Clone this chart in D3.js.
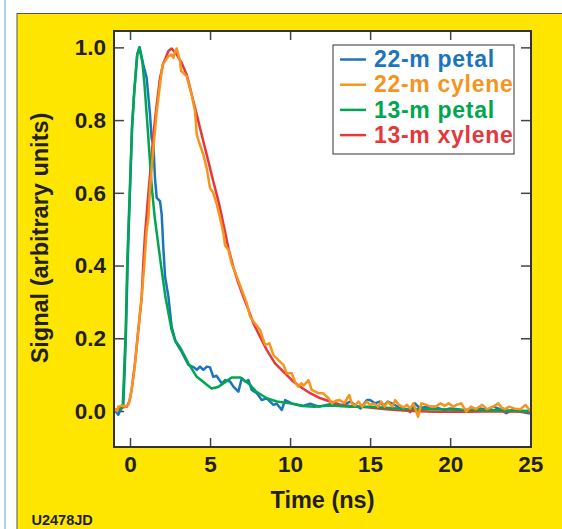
<!DOCTYPE html>
<html>
<head>
<meta charset="utf-8">
<script src="https://cdn.jsdelivr.net/npm/d3@7"></script>
<style>
	body { margin: 0; background: white; }
	text { font-family: "Liberation Sans", Arial, Helvetica, sans-serif; font-weight: bold; fill: #231f20; }
</style>
</head>
<body>
<svg id="chart"></svg>
<script>

//series, as [time (ns), signal]
var petal22 = [
	[-1, 0.0], [-0.83, -0.004], [-0.73, -0.01], [-0.625, 0.0], [-0.42, 0.015], [-0.35, 0.09], [-0.25, 0.22],
	[-0.15, 0.4], [-0.08, 0.5], [0.13, 0.78], [0.27, 0.88], [0.45, 0.98], [0.6, 1.0], [0.83, 0.953],
	[1.04, 0.916], [1.25, 0.815], [1.35, 0.75], [1.46, 0.733], [1.56, 0.64], [1.67, 0.586], [1.875, 0.577],
	[1.98, 0.54], [2.08, 0.45], [2.19, 0.37], [2.4, 0.314], [2.6, 0.232], [2.85, 0.19], [3.2, 0.165],
	[3.65, 0.127], [4.0, 0.12], [4.17, 0.113], [4.375, 0.122], [4.58, 0.113], [4.8, 0.122], [5.0, 0.12],
	[5.2, 0.094], [5.4, 0.097], [5.73, 0.076], [5.94, 0.085], [6.25, 0.081], [6.46, 0.067], [6.77, 0.053],
	[6.98, 0.09], [7.2, 0.081], [7.4, 0.085], [7.6, 0.058], [7.9, 0.05], [8.23, 0.03], [8.54, 0.035],
	[8.96, 0.017], [9.17, 0.02], [9.48, 0.003], [9.69, 0.03], [10.1, 0.021], [10.4, 0.018], [10.8, 0.014],
	[11.25, 0.02], [11.8, 0.012], [12.7, 0.021], [13.2, 0.014], [13.75, 0.026], [14.4, 0.007], [14.8, 0.03],
	[15.0, 0.03], [15.3, 0.021], [15.6, 0.026], [15.85, 0.014], [16.1, 0.026], [16.5, 0.018], [16.9, 0.007],
	[17.3, 0.003], [17.5, -0.003], [17.8, 0.021], [18.1, 0.008], [18.6, 0.012], [19.0, 0.012], [19.6, 0.003],
	[20.0, 0.007], [20.5, 0.005], [21.0, -0.002], [21.5, 0.005], [21.9, 0.007], [22.3, 0.003], [22.7, 0.012],
	[23.1, 0.005], [23.5, -0.006], [23.9, 0.003], [24.4, -0.002], [24.9, -0.006], [25.05, -0.004]
];

var cylene22 = [
	[-1, 0.0], [-0.9, 0.005], [-0.8, 0.0], [-0.73, 0.012], [-0.5, 0.015], [-0.31, 0.012], [-0.1, 0.017],
	[0.0, 0.035], [0.1, 0.058], [0.21, 0.094], [0.31, 0.131], [0.52, 0.223], [0.73, 0.314], [0.9, 0.406],
	[1.04, 0.498], [1.15, 0.53], [1.25, 0.613], [1.46, 0.723], [1.67, 0.824], [1.875, 0.898], [2.04, 0.953],
	[2.19, 0.962], [2.4, 0.976], [2.6, 0.98], [2.71, 0.971], [2.81, 0.988], [2.92, 0.997], [3.02, 0.98],
	[3.125, 0.962], [3.19, 0.935], [3.33, 0.93], [3.54, 0.92], [3.85, 0.87], [4.06, 0.824], [4.17, 0.76],
	[4.33, 0.737], [4.58, 0.705], [4.79, 0.668], [5.0, 0.613], [5.2, 0.6], [5.42, 0.568], [5.625, 0.531],
	[5.83, 0.49], [5.94, 0.455], [6.15, 0.443], [6.35, 0.406], [6.67, 0.37], [6.98, 0.333], [7.3, 0.296],
	[7.5, 0.26], [7.8, 0.241], [8.125, 0.223], [8.44, 0.182], [8.71, 0.186], [8.96, 0.154], [9.27, 0.14],
	[9.58, 0.127], [9.79, 0.104], [10.1, 0.104], [10.3, 0.081], [10.5, 0.067], [10.7, 0.076], [10.85, 0.07],
	[11.15, 0.085], [11.35, 0.058], [11.77, 0.049], [12.06, 0.049], [12.4, 0.035], [12.6, 0.021], [12.85, 0.028],
	[13.1, 0.03], [13.4, 0.022], [13.7, 0.044], [13.85, 0.021], [14.05, 0.015], [14.27, 0.026], [14.5, 0.012],
	[14.8, 0.026], [15.0, 0.017], [15.25, 0.02], [15.5, 0.012], [15.7, 0.026], [15.9, 0.012], [16.1, 0.026],
	[16.4, 0.012], [16.56, 0.03], [16.8, 0.017], [17.1, 0.01], [17.3, 0.017], [17.5, 0.007], [17.7, 0.021],
	[18.0, -0.016], [18.2, 0.021], [18.5, 0.017], [18.8, 0.012], [19.1, 0.012], [19.4, 0.021], [19.65, 0.014],
	[19.9, 0.021], [20.2, 0.012], [20.4, 0.017], [20.7, 0.021], [21.0, -0.002], [21.3, 0.012], [21.6, 0.005],
	[22.0, 0.017], [22.3, 0.005], [22.7, 0.012], [23.0, 0.021], [23.2, 0.01], [23.4, 0.005], [23.7, 0.012],
	[24.05, 0.006], [24.4, 0.005], [24.7, 0.017], [25.05, -0.002]
];

var petal13 = [
	[-1, 0.0], [-0.8, 0.0], [-0.6, 0.005], [-0.45, 0.02], [-0.375, 0.1], [-0.27, 0.22], [-0.17, 0.41],
	[-0.1, 0.5], [0.125, 0.78], [0.25, 0.87], [0.45, 0.98], [0.58, 1.0], [0.77, 0.96], [0.9, 0.9],
	[1.1, 0.78], [1.35, 0.62], [1.55, 0.53], [1.73, 0.47], [1.92, 0.406], [2.21, 0.314], [2.6, 0.223],
	[2.81, 0.195], [3.17, 0.172], [3.65, 0.131], [4.17, 0.094], [4.8, 0.072], [5.1, 0.062], [5.5, 0.066],
	[5.83, 0.076], [6.35, 0.092], [6.9, 0.092], [7.5, 0.072], [7.9, 0.053], [8.54, 0.035], [9.17, 0.026],
	[10.0, 0.021], [10.8, 0.014], [11.5, 0.012], [12.5, 0.015], [13.75, 0.012], [15.0, 0.012], [17.0, 0.006],
	[20.0, 0.004], [25.05, 0.0]
];

var xylene13 = [
	[-1, 0.005], [-0.8, 0.005], [-0.42, 0.01], [-0.2, 0.012], [-0.04, 0.026], [0.1, 0.058], [0.31, 0.131],
	[0.52, 0.223], [0.73, 0.314], [0.83, 0.406], [0.94, 0.487], [1.04, 0.54], [1.15, 0.6], [1.25, 0.65],
	[1.46, 0.76], [1.67, 0.843], [1.875, 0.916], [2.08, 0.957], [2.19, 0.967], [2.4, 0.99], [2.6, 0.997],
	[2.92, 0.98], [3.23, 0.957], [3.54, 0.925], [3.75, 0.889], [3.96, 0.852], [4.17, 0.815], [4.375, 0.778],
	[4.58, 0.742], [4.79, 0.705], [5.0, 0.668], [5.2, 0.632], [5.42, 0.595], [5.625, 0.558], [5.83, 0.515],
	[6.0, 0.48], [6.15, 0.447], [6.46, 0.395], [6.77, 0.352], [7.08, 0.314], [7.4, 0.278], [7.71, 0.241],
	[8.125, 0.204], [8.54, 0.168], [9.06, 0.131], [9.58, 0.108], [10.2, 0.081], [10.8, 0.062], [11.25, 0.049],
	[11.9, 0.035], [12.5, 0.026], [13.1, 0.018], [13.75, 0.014], [14.8, 0.01], [16.0, 0.005], [17.3, 0.001],
	[19.0, -0.002], [21.0, -0.002], [23.0, -0.001], [25.05, -0.002]
];

var seriesNames = ["22-m petal", "22-m cylene", "13-m petal", "13-m xylene"];
var seriesColors = ["#1c75bc", "#f7941e", "#00a651", "#e5383b"];
var xTicks = [0, 5, 10, 15, 20, 25];
var yTicks = [0, 0.2, 0.4, 0.6, 0.8, 1.0];

var width = 562, height = 529;
var svg = d3.select("#chart").attr("width", width).attr("height", height);

//thin blue margin line
svg.append("line").attr("x1", 5).attr("x2", 5).attr("y1", 0).attr("y2", height)
	.style("stroke", "#5aa5dc").style("stroke-width", 1);

//yellow panel
svg.append("rect").attr("x", 17).attr("y", 13.5).attr("width", 560).attr("height", 530)
	.style("fill", "#ffe600").style("stroke", "#555").style("stroke-width", 1);

//plot area
var x = d3.scaleLinear().domain([-1, 25.05]).range([114, 531]);
var y = d3.scaleLinear().domain([-0.099, 1.045]).range([447, 31]);

svg.append("rect").attr("x", x.range()[0]).attr("y", y.range()[1])
	.attr("width", x.range()[1] - x.range()[0]).attr("height", y.range()[0] - y.range()[1])
	.style("fill", "white");

//axes, ticks pointing inside
function styleAxis(g) {
	g.select(".domain").remove();
	g.selectAll(".tick line").style("stroke", "#444").style("stroke-width", 1.5);
	g.selectAll(".tick text").style("font-size", "22.5px").attr("fill", null);
}
svg.append("g").attr("transform", "translate(0," + y.range()[0] + ")")
	.call(d3.axisBottom(x).tickValues(xTicks).tickSizeInner(-9).tickSizeOuter(0).tickPadding(9.5).tickFormat(d3.format("d")))
	.call(styleAxis);
svg.append("g").attr("transform", "translate(0," + y.range()[1] + ")")
	.call(d3.axisTop(x).tickValues(xTicks).tickSizeInner(-9).tickSizeOuter(0).tickFormat(""))
	.call(styleAxis);
svg.append("g").attr("transform", "translate(" + x.range()[0] + ",0)")
	.call(d3.axisLeft(y).tickValues(yTicks).tickSizeInner(-10).tickSizeOuter(0).tickPadding(8).tickFormat(d3.format(".1f")))
	.call(styleAxis);
svg.append("g").attr("transform", "translate(" + x.range()[1] + ",0)")
	.call(d3.axisRight(y).tickValues(yTicks).tickSizeInner(-10).tickSizeOuter(0).tickFormat(""))
	.call(styleAxis);

//curves
var line = d3.line().x(function(d) { return x(d[0]); }).y(function(d) { return y(d[1]); });
var data = [petal22, cylene22, petal13, xylene13];
var drawOrder = [0, 3, 2, 1];
svg.append("g").selectAll("path").data(drawOrder).enter().append("path")
	.attr("d", function(i) { return line(data[i]); })
	.style("fill", "none")
	.style("stroke", function(i) { return seriesColors[i]; })
	.style("stroke-width", 2.5)
	.style("stroke-linejoin", "round");

//plot frame
svg.append("rect").attr("x", x.range()[0]).attr("y", y.range()[1])
	.attr("width", x.range()[1] - x.range()[0]).attr("height", y.range()[0] - y.range()[1])
	.style("fill", "none").style("stroke", "#333").style("stroke-width", 2);

//legend
var lg = svg.append("g");
lg.append("rect").attr("x", 333).attr("y", 45).attr("width", 181).attr("height", 109)
	.style("fill", "white").style("stroke", "#333").style("stroke-width", 1);
var rows = lg.selectAll("g.row").data(seriesNames).enter().append("g")
	.attr("transform", function(d, i) { return "translate(0," + (59.5 + 25.2 * i) + ")"; });
rows.append("line").attr("x1", 340).attr("x2", 366)
	.style("stroke", function(d, i) { return seriesColors[i]; }).style("stroke-width", 2.5);
rows.append("text").attr("x", 374).attr("y", 7.7).text(function(d) { return d; })
	.style("font-size", "23px").style("letter-spacing", "0.7px")
	.style("fill", function(d, i) { return seriesColors[i]; });

//axis titles
svg.append("text").attr("x", 322.5).attr("y", 508).attr("text-anchor", "middle")
	.style("font-size", "23.5px").text("Time (ns)");
svg.append("text").attr("transform", "translate(48,238) rotate(-90)").attr("text-anchor", "middle")
	.style("font-size", "23.5px").text("Signal (arbitrary units)");

//figure id
svg.append("text").attr("x", 31.5).attr("y", 525).style("font-size", "14.5px").text("U2478JD");

</script>
</body>
</html>
